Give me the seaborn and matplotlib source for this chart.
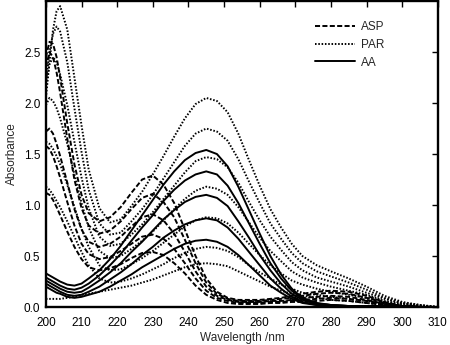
import numpy as np
import pandas as pd
import matplotlib
matplotlib.use("Agg")
import matplotlib.pyplot as plt
from matplotlib.lines import Line2D
import seaborn as sns

wavelength = [200, 201, 202, 203, 204, 206, 208, 210, 212, 215, 218, 221, 224, 227, 230,
              233, 236, 239, 242, 245, 248, 251, 254, 257, 260, 263, 266, 269, 272, 276,
              280, 285, 290, 295, 300, 305, 310]

# ASP (dashed)
asp_1 = [2.45, 2.60, 2.58, 2.45, 2.25, 1.80, 1.40, 1.10, .92, .84, .88, .98, 1.12, 1.25, 1.29,
         1.20, 1.02, .76, .50, .28, .15, .09, .07, .07, .07, .08, .09, .11, .13, .15,
         .16, .15, .11, .05, .01, 0, 0]
asp_2 = [2.35, 2.50, 2.45, 2.30, 2.10, 1.65, 1.25, .97, .80, .72, .75, .84, .96, 1.07, 1.11,
         1.03, .88, .66, .43, .24, .13, .08, .06, .06, .06, .07, .08, .09, .11, .13,
         .14, .13, .09, .04, .01, 0, 0]
asp_3 = [1.72, 1.75, 1.70, 1.60, 1.48, 1.22, .96, .76, .64, .59, .62, .69, .79, .88, .91,
         .85, .72, .54, .35, .20, .11, .07, .05, .05, .05, .06, .06, .07, .09, .10,
         .11, .10, .07, .03, .01, 0, 0]
asp_4 = [1.58, 1.55, 1.48, 1.38, 1.27, 1.03, .80, .62, .52, .47, .49, .55, .62, .69, .71,
         .67, .57, .43, .28, .16, .09, .06, .04, .04, .04, .05, .05, .06, .07, .08,
         .09, .08, .06, .03, .01, 0, 0]
asp_5 = [1.12, 1.10, 1.05, .98, .90, .74, .59, .47, .39, .36, .38, .42, .48, .53, .54,
         .51, .43, .33, .21, .12, .07, .04, .03, .03, .03, .04, .04, .05, .05, .06,
         .07, .06, .04, .02, .01, 0, 0]

# PAR (dotted)
par_1 = [2.05, 2.40, 2.72, 2.90, 2.95, 2.72, 2.25, 1.78, 1.35, .97, .83, .86, .99, 1.13, 1.30,
         1.48, 1.67, 1.85, 1.99, 2.05, 2.02, 1.91, 1.70, 1.44, 1.19, .96, .78, .62, .50, .41,
         .35, .28, .20, .11, .05, .02, 0]
par_2 = [2.20, 2.50, 2.68, 2.75, 2.70, 2.40, 1.95, 1.52, 1.15, .82, .71, .73, .84, .96, 1.10,
         1.26, 1.42, 1.58, 1.70, 1.75, 1.72, 1.63, 1.45, 1.23, 1.02, .82, .67, .53, .43, .35,
         .30, .24, .17, .09, .04, .02, 0]
par_3 = [2.15, 2.38, 2.45, 2.40, 2.28, 1.98, 1.62, 1.27, .97, .69, .60, .62, .71, .81, .93,
         1.06, 1.19, 1.32, 1.43, 1.47, 1.45, 1.37, 1.22, 1.03, .85, .69, .56, .44, .36, .29,
         .25, .20, .14, .08, .035, .015, 0]
par_4 = [1.98, 2.05, 2.02, 1.95, 1.85, 1.60, 1.30, 1.02, .78, .55, .48, .50, .57, .65, .74,
         .85, .96, 1.06, 1.14, 1.18, 1.16, 1.10, .98, .83, .68, .55, .45, .35, .29, .24,
         .20, .16, .12, .06, .03, .01, 0]
par_5 = [1.62, 1.60, 1.55, 1.48, 1.40, 1.20, .98, .77, .59, .41, .36, .37, .42, .48, .55,
         .63, .71, .79, .85, .88, .87, .82, .73, .62, .51, .41, .33, .26, .22, .18,
         .15, .12, .09, .05, .02, .01, 0]
par_6 = [1.18, 1.15, 1.10, 1.04, .98, .84, .69, .54, .41, .28, .24, .25, .28, .32, .37,
         .42, .48, .53, .57, .59, .58, .55, .49, .41, .34, .28, .22, .18, .14, .12,
         .10, .08, .06, .03, .01, 0, 0]
par_7 = [.08, .08, .08, .08, .08, .09, .10, .12, .13, .15, .17, .19, .21, .24, .27,
         .31, .35, .39, .42, .43, .42, .40, .35, .30, .25, .20, .16, .13, .11, .09,
         .07, .06, .04, .02, .01, 0, 0]

# AA (solid)
aa_1 = [.33, .31, .29, .27, .25, .22, .21, .23, .28, .36, .47, .60, .75, .90, 1.05,
        1.20, 1.33, 1.44, 1.51, 1.54, 1.50, 1.38, 1.18, .95, .72, .50, .32, .18, .09, .04,
        .02, .01, .01, .01, .01, 0, 0]
aa_2 = [.29, .27, .25, .23, .21, .18, .17, .19, .23, .31, .41, .52, .65, .78, .90,
        1.04, 1.15, 1.24, 1.30, 1.33, 1.30, 1.19, 1.02, .82, .62, .43, .28, .16, .08, .035,
        .02, .01, .01, .01, 0, 0, 0]
aa_3 = [.26, .24, .22, .20, .18, .15, .14, .15, .19, .26, .34, .43, .54, .64, .75,
        .86, .95, 1.03, 1.08, 1.10, 1.07, .99, .84, .68, .51, .36, .23, .13, .07, .03,
        .02, .01, .01, 0, 0, 0, 0]
aa_4 = [.23, .21, .19, .17, .15, .12, .11, .12, .15, .20, .27, .34, .42, .51, .59,
        .68, .75, .81, .85, .87, .85, .78, .67, .54, .41, .28, .18, .10, .05, .02,
        .01, .01, 0, 0, 0, 0, 0]
aa_5 = [.20, .18, .16, .14, .13, .10, .09, .10, .12, .15, .20, .26, .32, .39, .45,
        .51, .57, .62, .65, .66, .64, .59, .51, .41, .31, .21, .14, .08, .04, .02,
        .01, .01, 0, 0, 0, 0, 0]

compounds = ["ASP", "PAR", "AA"]
series = {
    "ASP": [asp_1, asp_2, asp_3, asp_4, asp_5],
    "PAR": [par_1, par_2, par_3, par_4, par_5, par_6, par_7],
    "AA": [aa_1, aa_2, aa_3, aa_4, aa_5],
}

rows = []
for comp in compounds:
    for i, vals in enumerate(series[comp]):
        for w, v in zip(wavelength, vals):
            rows.append({"Wavelength": w, "Absorbance": v, "Compound": comp,
                         "Curve": f"{comp}{i}"})
df = pd.DataFrame(rows)

sns.set_style("white")
plt.rcParams["font.family"] = ["Liberation Sans", "DejaVu Sans"]

fig = plt.figure(figsize=(4.5, 3.45), dpi=100)
ax = fig.add_axes([0.102, 0.110, 0.871, 0.887])

LW = 1.4
dash_map = {"ASP": (2.6, 1.2), "PAR": (0.8, 0.9), "AA": ""}
sns.lineplot(data=df, x="Wavelength", y="Absorbance", style="Compound",
             units="Curve", estimator=None, dashes=dash_map, color="black",
             linewidth=LW, legend=False, sort=False, ax=ax)

ax.set_xlim(200, 310)
ax.set_ylim(0, 3.0)
ax.set_xticks(np.arange(200, 311, 10))
ax.set_yticks([0.0, 0.5, 1.0, 1.5, 2.0, 2.5])
ax.set_yticklabels(["0.0", "0.5", "1.0", "1.5", "2.0", "2.5"])
ax.tick_params(axis="both", direction="in", top=True, right=True, length=4, width=1,
               labelsize=8.5, colors="black")
ax.tick_params(axis="x", pad=7)
ax.tick_params(axis="y", pad=4)
for s in ax.spines.values():
    s.set_linewidth(1.7)
    s.set_color("black")
ax.set_xlabel("Wavelength /nm", fontsize=8.5, labelpad=2)
ax.set_ylabel("Absorbance", fontsize=8.5, labelpad=4)

handles = [
    Line2D([], [], color="black", lw=LW, dashes=dash_map["ASP"]),
    Line2D([], [], color="black", lw=LW, dashes=dash_map["PAR"]),
    Line2D([], [], color="black", lw=LW, ls="-"),
]
ax.legend(handles, compounds, loc="upper left", bbox_to_anchor=(0.674, 0.951),
          frameon=False, fontsize=8.5, handlelength=3.4, handletextpad=0.5,
          labelspacing=0.5, borderaxespad=0)

fig.savefig("out.png", dpi=100)
